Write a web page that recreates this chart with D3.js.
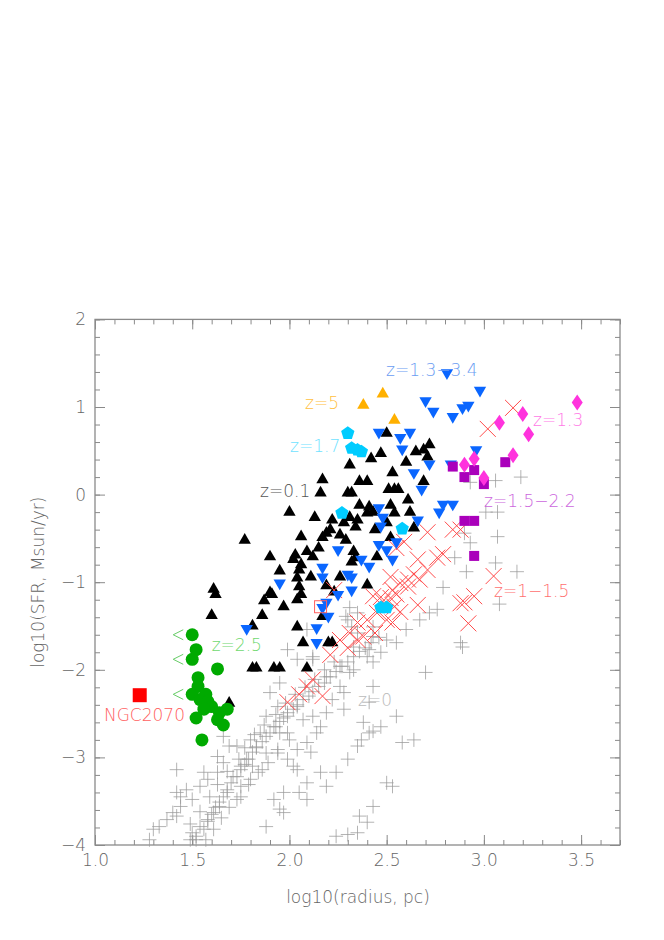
<!DOCTYPE html>
<html><head><meta charset="utf-8">
<script src="https://cdn.jsdelivr.net/npm/d3@7"></script>
<style>
body{margin:0;background:#fff;}
svg{display:block;}
text{font-family:"DejaVu Sans",sans-serif;font-weight:200;}
</style>
</head><body>
<svg id="chart" width="664" height="940"></svg>
<script>
// ---------------- DATA (log10 radius [pc], log10 SFR [Msun/yr]) ----------------
const xMajorTicks=[1.0,1.5,2.0,2.5,3.0,3.5];
const yMajorTicks=[2,1,0,-1,-2,-3,-4];
const xTitle="log10(radius, pc)";
const yTitle="log10(SFR, Msun/yr)";

// z=0 (grey plus)
const z0=[
[2.93,0.14],[3.06,0.16],[3.19,0.20],[3.01,-0.20],[3.07,-0.20],[2.93,-0.55],[3.07,-0.48],[3.06,-0.78],[3.17,-0.88],[2.91,-0.88],[3.08,-1.25],[2.89,-1.74],[2.90,-0.44],[2.85,-0.72],[2.79,-1.06],[2.72,-1.35],[2.88,-1.69],[2.76,-1.31],[2.67,-1.43],[2.60,-1.54],[2.70,-2.03],
[2.31,-1.29],[2.35,-1.35],[2.29,-1.39],[2.32,-1.51],[2.35,-1.58],[2.43,-1.62],[2.50,-1.66],[2.55,-1.69],[1.99,-1.77],[2.12,-1.85],[2.41,-1.77],[2.47,-1.80],[2.09,-1.54],[2.04,-1.88],[2.12,-1.88],[2.30,-1.43],[2.33,-1.74],[2.26,-1.96],[2.19,-2.08],[2.31,-2.03],[2.40,-1.85],[2.43,-1.51],[1.95,-2.15],[1.90,-2.26],[1.94,-2.42],[1.88,-2.53],[1.99,-2.53],[2.04,-2.42],[2.07,-2.57],[2.12,-2.53],[2.19,-2.49],[2.16,-2.65],[2.22,-2.34],[2.26,-2.19],[2.28,-2.45],[2.09,-2.83],[2.14,-2.72],[2.00,-2.80],[1.95,-2.72],[1.92,-2.65],[1.85,-2.72],[1.80,-2.80],[1.83,-2.88],[1.88,-2.95],[1.94,-2.95],[1.99,-3.02],[2.04,-2.91],[1.78,-3.02],[1.75,-3.10],[1.81,-3.10],[1.86,-3.14],[1.71,-3.22],[1.75,-3.33],[1.80,-3.25],[1.68,-3.40],[1.73,-3.48],[1.64,-3.56],[1.61,-3.63],[1.58,-3.71],[1.54,-3.79],[1.50,-3.86],[1.49,-3.94],[1.52,-3.94],
[1.30,-3.82],[1.33,-3.79],[1.37,-3.71],[1.40,-3.63],[1.44,-3.56],[1.42,-3.40],[1.47,-3.37],[1.50,-3.48],[1.54,-3.33],[1.58,-3.25],[1.63,-3.17],[1.56,-3.17],[1.66,-3.06],[1.63,-2.99],[1.69,-2.87],[1.66,-2.76],[1.42,-3.14],[1.73,-2.87],[1.28,-3.94],[1.44,-3.45],[1.42,-3.67],
[2.09,-3.48],[1.97,-3.63],[1.88,-3.79],[2.16,-3.17],[2.24,-3.17],[2.19,-3.33],[2.30,-3.02],[2.35,-2.87],[2.41,-2.72],[2.43,-3.56],[2.36,-3.67],[2.47,-2.65],[2.04,-3.14],[2.09,-3.29],[1.92,-3.48],[2.41,-2.37],[2.43,-2.19],[2.55,-2.53],[2.38,-2.60],[2.43,-2.70],[2.37,-2.80],[2.58,-2.83],[2.64,-2.80],[2.50,-3.29],[2.53,-3.33],[2.05,-3.40],[1.97,-3.40],[2.40,-3.74],[2.35,-3.86],[2.30,-3.88],[2.24,-3.90],[1.95,-3.59],[2.02,-3.10],[2.33,-2.00],[2.43,-1.91],[2.28,-2.26],[1.99,-2.72],[2.11,-2.94],
[1.52,-3.90],[1.56,-3.82],[1.58,-3.73],[1.60,-3.65],[1.62,-3.57],[1.64,-3.51],[1.66,-3.45],[1.68,-3.37],[1.70,-3.29],[1.73,-3.22],[1.75,-3.14],[1.77,-3.08],[1.79,-3.02],[1.81,-2.94],[1.83,-2.89],[1.86,-2.82],[1.88,-2.76],[1.90,-2.72],[1.93,-2.65],[1.95,-2.59],[1.97,-2.55],[1.99,-2.49],[2.02,-2.45],[2.04,-2.40],[2.07,-2.34],[2.10,-2.30],[2.12,-2.25],[2.15,-2.19],[2.18,-2.15],[2.21,-2.08],[2.24,-2.02],[2.27,-1.96],[2.30,-1.91],[2.33,-1.85],[2.36,-1.79],[2.39,-1.75],[2.42,-1.69],[2.46,-1.63],
[1.57,-3.94],[1.61,-3.82],[1.65,-3.69],[1.69,-3.57],[1.75,-3.45],[1.79,-3.31],[1.84,-3.17],[1.89,-3.06],[1.94,-2.91],
[1.49,-3.76],[1.54,-3.62],[1.59,-3.45],[1.63,-3.31],[1.68,-3.16],[1.74,-3.02],[1.77,-2.89],[1.82,-2.74],[1.87,-2.63],[1.93,-2.51],[1.98,-2.38],[2.03,-2.28],[2.08,-2.20],[2.13,-2.11],[2.18,-2.00],[2.23,-1.91]
];

// z=0.1 (black triangles)
const z01=[
[2.50,0.70],[2.47,0.47],[2.42,0.41],[2.31,0.34],[2.60,0.37],[2.65,0.49],[2.69,0.51],[2.72,0.57],[2.71,0.43],[2.53,0.25],[2.69,0.15],[2.17,0.17],[2.36,0.15],[2.40,0.15],[2.54,0.06],[2.51,0.06],[2.56,0.06],[2.00,-0.20],[2.13,-0.26],[2.16,0.02],[2.30,0.02],[2.32,0.02],[2.36,-0.12],[2.41,-0.14],[2.43,-0.20],[2.40,-0.21],[2.52,-0.12],[2.54,-0.21],[2.61,-0.06],[2.62,-0.20],[2.31,-0.26],[2.35,-0.29],[2.34,-0.37],[2.28,-0.32],[2.22,-0.29],[2.21,-0.40],[2.26,-0.46],[2.06,-0.48],[2.17,-0.49],[2.19,-0.44],[2.44,-0.40],[2.52,-0.49],[2.50,-0.32],[2.64,-0.38],[2.29,-0.52],[2.09,-0.65],[2.15,-0.61],[2.12,-0.71],[2.03,-0.69],[2.02,-0.74],[2.06,-0.80],[2.05,-0.86],[2.11,-0.94],[2.04,-0.95],[2.05,-1.05],[2.06,-1.14],[2.33,-0.65],[2.32,-0.77],[2.34,-0.72],[2.45,-0.71],[2.26,-0.94],[2.40,-1.03],[2.19,-1.04],[2.23,-1.11],[1.97,-1.28],[2.17,-1.39],[2.04,-1.51],[2.20,-1.69],[2.22,-1.69],[2.07,-1.69],[1.77,-0.52],[1.90,-0.71],[1.95,-0.87],[1.61,-1.08],[1.62,-1.14],[1.91,-1.14],[1.87,-1.21],[1.86,-1.38],[1.60,-1.38],[1.81,-1.50],[1.81,-1.98],[1.83,-1.98],[1.92,-1.98],[1.95,-1.98],[1.69,-2.38],[2.09,-1.98],[2.04,-1.20],[1.90,-1.12]
];

// z=1.3-3.4 (blue down triangles)
const z13to34=[
[2.81,1.39],[2.70,1.07],[2.74,0.95],[2.84,0.89],[2.89,0.99],[2.92,1.02],[2.98,1.19],[2.46,0.71],[2.57,0.65],[2.62,0.71],[2.58,0.52],[2.72,0.35],[2.64,0.25],[2.83,0.35],[2.96,0.51],
[2.68,0.06],[2.79,-0.11],[2.84,-0.11],[2.77,-0.20],[2.46,-0.15],[2.48,-0.26],[2.47,-0.36],[2.66,-0.29],[2.55,-0.54],[2.25,-0.63],[2.46,-0.57],[2.50,-0.63],[2.53,-0.74],[2.37,-0.74],[2.41,-0.82],[2.17,-0.83],[2.17,-0.94],[2.30,-0.91],[2.32,-0.94],[2.32,-1.09],[2.25,-1.14],[2.19,-1.23],[2.17,-1.29],[2.20,-1.39],[2.14,-1.52],[2.14,-1.69],[1.95,-1.01],[1.78,-1.53]
];

// z=1-1.5 (red crosses)
const z1to15=[
[3.15,0.99],[3.02,0.75],[3.05,-0.93],[2.95,-1.16],[2.90,-1.23],[2.92,-1.47],[2.88,-0.40],[2.71,-0.43],[2.84,-0.40],[2.59,-0.54],[2.55,-0.61],[2.66,-0.74],[2.76,-0.72],[2.79,-0.68],[2.71,-0.86],[2.52,-0.94],[2.64,-0.91],[2.61,-0.97],[2.57,-1.01],[2.53,-1.09],[2.61,-1.05],[2.67,-0.97],[2.55,-1.14],[2.52,-1.18],[2.48,-1.22],[2.47,-1.17],[2.54,-1.28],[2.57,-1.34],[2.45,-1.35],[2.40,-1.43],[2.50,-1.43],[2.53,-1.46],[2.35,-1.46],[2.31,-1.58],[2.38,-1.62],[2.44,-1.58],[2.26,-1.66],[2.30,-1.75],[2.21,-1.83],[2.23,-1.09],[2.88,-1.24],[2.66,-1.26],[2.43,-1.16],[2.35,-1.66],[2.12,-2.11],[2.09,-2.19],[2.05,-2.28],[1.99,-2.37],[2.17,-2.30]
];

// z=1.7 (cyan pentagons)
const z17=[[2.30,0.70],[2.32,0.53],[2.35,0.51],[2.37,0.49],[2.27,-0.21],[2.58,-0.39],[2.47,-1.29],[2.50,-1.29]];
// z=5 (orange triangles)
const z5=[[2.48,1.15],[2.38,1.02],[2.54,0.85]];
// z=1.3 (magenta diamonds)
const z13=[[3.48,1.05],[3.20,0.92],[3.08,0.82],[3.23,0.69],[3.15,0.45],[2.95,0.41],[2.90,0.34],[3.00,0.19]];
// z=1.5-2.2 (purple squares)
const z15to22=[[2.84,0.32],[2.90,0.20],[2.95,0.28],[3.11,0.37],[3.00,0.12],[2.90,-0.30],[2.95,-0.30],[2.95,-0.70]];
// z=2.5 (green circles)
const z25=[[1.50,-1.60],[1.52,-1.77],[1.50,-1.88],[1.63,-1.99],[1.53,-2.09],[1.53,-2.19],[1.50,-2.28],[1.57,-2.28],[1.54,-2.34],[1.58,-2.36],[1.60,-2.42],[1.56,-2.45],[1.68,-2.45],[1.64,-2.49],[1.52,-2.55],[1.63,-2.57],[1.66,-2.63],[1.55,-2.80]];
// z=2.5 upper limits (drawn as "<")
const z25limits=[[1.50,-1.60],[1.50,-1.88],[1.50,-2.28]];
// NGC2070
const ngc2070=[[1.23,-2.29]];
// open red square
const openSquare=[[2.16,-1.28]];

// annotations: text and anchor (data units)
const labels=[
 {t:"z=1.3\u22123.4",x:2.497,y:1.42,c:"#6a9cf2"},
 {t:"z=5",x:2.08,y:1.05,c:"#ffc040"},
 {t:"z=1.7",x:2.003,y:0.557,c:"#6fe2ff"},
 {t:"z=0.1",x:1.849,y:0.04,c:"#555555"},
 {t:"z=1.3",x:3.253,y:0.853,c:"#ff78e6"},
 {t:"z=1.5\u22122.2",x:3.001,y:-0.07,c:"#cc66dd"},
 {t:"z=1\u22121.5",x:3.052,y:-1.10,c:"#ff6f6f"},
 {t:"z=2.5",x:1.60,y:-1.72,c:"#6fd86f"},
 {t:"z=0",x:2.353,y:-2.34,c:"#bbbbbb"},
 {t:"NGC2070",x:1.046,y:-2.52,c:"#ff6060"}
];

// ---------------- DRAW ----------------
const svg=d3.select("#chart");
const x=d3.scaleLinear().domain([1.0,3.7]).range([95,620]);
const y=d3.scaleLinear().domain([-4,2]).range([845,319.4]);
const axisColor="#8a8a8a", textColor="#666";
const xMinor=d3.range(10,38).map(d=>d/10);
const yMinor=d3.range(-20,11).map(d=>d/5);

function styleAxis(g){
  g.attr("color",axisColor).attr("font-family","DejaVu Sans, sans-serif").attr("font-size",17).attr("font-weight",200);
  g.selectAll("text").attr("fill",textColor);
  g.select(".domain").remove();
}
// frame
svg.append("rect").attr("x",x(1.0)).attr("y",y(2)).attr("width",x(3.7)-x(1.0)).attr("height",y(-4)-y(2))
  .attr("fill","none").attr("stroke",axisColor).attr("stroke-width",1.3);

const gBottom=svg.append("g").attr("transform",`translate(0,${y(-4)})`);
gBottom.append("g").call(d3.axisBottom(x).tickValues(xMinor).tickSize(-5).tickFormat("")).call(styleAxis);
gBottom.append("g").call(d3.axisBottom(x).tickValues(xMajorTicks).tickSize(-10).tickPadding(9).tickFormat(d3.format(".1f"))).call(styleAxis);
const gTop=svg.append("g").attr("transform",`translate(0,${y(2)})`);
gTop.append("g").call(d3.axisTop(x).tickValues(xMinor).tickSize(-5).tickFormat("")).call(styleAxis);
gTop.append("g").call(d3.axisTop(x).tickValues(xMajorTicks).tickSize(-10).tickFormat("")).call(styleAxis);
const gLeft=svg.append("g").attr("transform",`translate(${x(1.0)},0)`);
gLeft.append("g").call(d3.axisLeft(y).tickValues(yMinor).tickSize(-5).tickFormat("")).call(styleAxis);
gLeft.append("g").call(d3.axisLeft(y).tickValues(yMajorTicks).tickSize(-10).tickPadding(9).tickFormat(d3.format("d"))).call(styleAxis);
const gRight=svg.append("g").attr("transform",`translate(${x(3.7)},0)`);
gRight.append("g").call(d3.axisRight(y).tickValues(yMinor).tickSize(-5).tickFormat("")).call(styleAxis);
gRight.append("g").call(d3.axisRight(y).tickValues(yMajorTicks).tickSize(-10).tickFormat("")).call(styleAxis);

// titles
svg.append("text").attr("x",(x(1.0)+x(3.7))/2+0.5).attr("y",903).attr("text-anchor","middle")
  .attr("font-size",17).attr("fill",textColor).text(xTitle);
svg.append("text").attr("transform",`translate(44,${(y(-4)+y(2))/2})rotate(-90)`).attr("text-anchor","middle")
  .attr("font-size",17).attr("fill",textColor).text(yTitle);

const plot=svg.append("g");
const tri=d3.symbol().type(d3.symbolTriangle).size(66);

// z=0 grey plus
plot.append("g").selectAll("path").data(z0).join("path")
  .attr("d",d=>{const px=x(d[0]),py=y(d[1]);return `M${px-7},${py}h14M${px},${py-7}v14`;})
  .attr("stroke","#9a9a9a").attr("stroke-opacity",0.75).attr("stroke-width",1).attr("fill","none");

// z=0.1 black triangles
plot.append("g").selectAll("path").data(z01).join("path")
  .attr("d",tri).attr("transform",d=>`translate(${x(d[0])},${y(d[1])})`).attr("fill","#000");

// z=1-1.5 red crosses
plot.append("g").selectAll("path").data(z1to15).join("path")
  .attr("d",d=>{const px=x(d[0]),py=y(d[1]);return `M${px-8},${py-8}l16,16M${px-8},${py+8}l16,-16`;})
  .attr("stroke","#ff4a4a").attr("stroke-width",1).attr("fill","none");

// z=1.3-3.4 blue down triangles
plot.append("g").selectAll("path").data(z13to34).join("path")
  .attr("d",tri).attr("transform",d=>`translate(${x(d[0])},${y(d[1])})rotate(180)`).attr("fill","#0a66ff");

// open red square
plot.append("g").selectAll("rect").data(openSquare).join("rect")
  .attr("x",d=>x(d[0])-6).attr("y",d=>y(d[1])-6).attr("width",12).attr("height",12)
  .attr("fill","none").attr("stroke","#ff6060").attr("stroke-width",1);

// z=1.7 cyan pentagons
const pent=d=>{const px=x(d[0]),py=y(d[1]),r=7;let s="";for(let i=0;i<5;i++){const a=-Math.PI/2+i*2*Math.PI/5;s+=(i?"L":"M")+(px+r*Math.cos(a))+","+(py+r*Math.sin(a));}return s+"Z";};
plot.append("g").selectAll("path").data(z17).join("path").attr("d",pent).attr("fill","#00ccff");

// z=5 orange triangles
plot.append("g").selectAll("path").data(z5).join("path")
  .attr("d",tri).attr("transform",d=>`translate(${x(d[0])},${y(d[1])})`).attr("fill","#ffb000");

// z=1.5-2.2 purple squares
plot.append("g").selectAll("rect").data(z15to22).join("rect")
  .attr("x",d=>x(d[0])-5).attr("y",d=>y(d[1])-5).attr("width",10).attr("height",10).attr("fill","#aa00bb");

// z=1.3 magenta diamonds
plot.append("g").selectAll("path").data(z13).join("path")
  .attr("d",d=>{const px=x(d[0]),py=y(d[1]);return `M${px},${py-8}L${px+5.5},${py}L${px},${py+8}L${px-5.5},${py}Z`;})
  .attr("fill","#ff33dd");

// z=2.5 green circles + upper-limit arrows
plot.append("g").selectAll("circle").data(z25).join("circle")
  .attr("cx",d=>x(d[0])).attr("cy",d=>y(d[1])).attr("r",6.5).attr("fill","#00aa00");
plot.append("g").selectAll("path").data(z25limits).join("path")
  .attr("d",d=>{const px=x(d[0])-14,py=y(d[1]);return `M${px+5},${py-5}L${px-5},${py}L${px+5},${py+5}`;})
  .attr("stroke","#66cc66").attr("stroke-width",1).attr("fill","none");

// NGC2070
plot.append("g").selectAll("rect").data(ngc2070).join("rect")
  .attr("x",d=>x(d[0])-7).attr("y",d=>y(d[1])-7).attr("width",14).attr("height",14).attr("fill","#ff0000");

// labels
svg.append("g").selectAll("text").data(labels).join("text")
  .attr("x",d=>x(d.x)).attr("y",d=>y(d.y)).attr("dy","0.36em")
  .attr("font-size",17).attr("fill",d=>d.c).text(d=>d.t);
</script>
</body></html>
